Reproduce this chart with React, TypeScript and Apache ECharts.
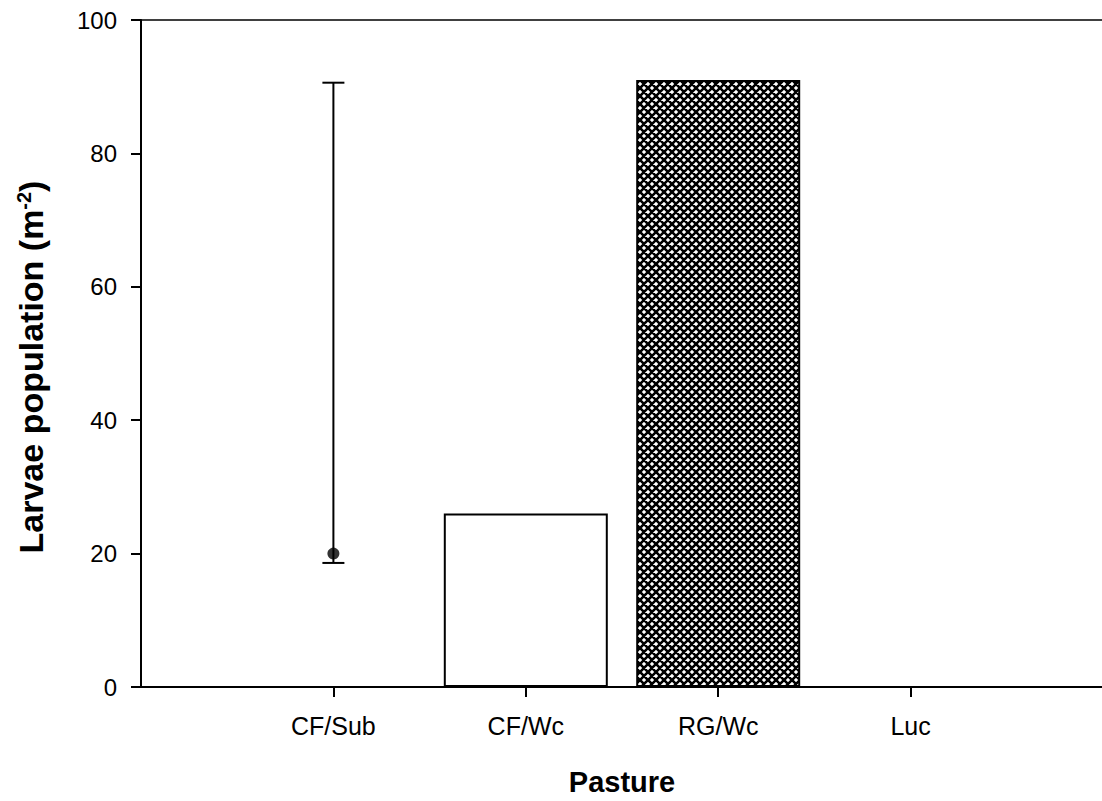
import React, { useEffect, useRef } from "react";
import * as echarts from "echarts";

// Pasture treatments and larvae counts (per m²)
const categories = ["CF/Sub", "CF/Wc", "RG/Wc", "Luc"];
const barValues: (number | null)[] = [null, 26, 91, 0];
const pointValues: (number | null)[] = [20, null, null, null];
const errLow: (number | null)[] = [18.6, null, null, null];
const errHigh: (number | null)[] = [90.6, null, null, null];
const yTicks = [0, 20, 40, 60, 80, 100];

// Axis slots: an empty slot at each end keeps the categories off the frame
const axisSlots = ["", ...categories, ""];

function makeCrossHatch(): HTMLCanvasElement {
  const c = document.createElement("canvas");
  c.width = 8;
  c.height = 8;
  const ctx = c.getContext("2d")!;
  ctx.fillStyle = "#ffffff";
  ctx.fillRect(0, 0, 8, 8);
  ctx.strokeStyle = "#000000";
  ctx.lineWidth = 2.6;
  ctx.beginPath();
  for (let k = -1; k <= 2; k++) {
    const o = k * 8;
    ctx.moveTo(o - 2, -2);
    ctx.lineTo(o + 10, 10);
    ctx.moveTo(o + 2, -2);
    ctx.lineTo(o - 10, 10);
  }
  ctx.stroke();
  return c;
}

export default function App() {
  const ref = useRef<HTMLDivElement>(null);

  useEffect(() => {
    document.body.style.margin = "0";
    document.body.style.overflow = "hidden";
    const chart = echarts.init(ref.current!, null, { renderer: "svg" });
    const hatch = makeCrossHatch();
    const font = "Arial, 'Liberation Sans', sans-serif";

    const barData = axisSlots.map((_, i) => {
      const v = i >= 1 && i <= categories.length ? barValues[i - 1] : null;
      if (v == null) return "-";
      const isHatched = categories[i - 1] === "RG/Wc";
      return {
        value: v,
        itemStyle: {
          color: isHatched
            ? { image: hatch, repeat: "repeat", imageWidth: 8, imageHeight: 8 }
            : "#ffffff",
          borderColor: "#000000",
          borderWidth: 2,
        },
      };
    });

    const pointData = axisSlots.map((_, i) => {
      const v = i >= 1 && i <= categories.length ? pointValues[i - 1] : null;
      return v == null ? "-" : v;
    });

    const errData: number[][] = [];
    categories.forEach((_, k) => {
      if (errLow[k] != null && errHigh[k] != null) {
        errData.push([k + 1, errLow[k] as number, errHigh[k] as number]);
      }
    });

    chart.setOption({
      animation: false,
      backgroundColor: "#ffffff",
      grid: { left: 141, right: 0, top: 20, height: 669, containLabel: false },
      graphic: [
        {
          type: "text",
          x: 31,
          y: 367,
          rotation: Math.PI / 2,
          style: {
            text: "{a|Larvae population (m}{s|-2}{a|)}",
            align: "center",
            verticalAlign: "middle",
            rich: {
              a: { fill: "#000", fontSize: 34, fontWeight: "bold", fontFamily: font },
              s: {
                fill: "#000",
                fontSize: 20,
                fontWeight: "bold",
                fontFamily: font,
                verticalAlign: "top",
                padding: [0, 0, 14, 0],
              },
            },
          },
        },
      ],
      xAxis: [
        {
          type: "category",
          data: axisSlots,
          boundaryGap: false,
          position: "bottom",
          axisLine: { lineStyle: { color: "#000", width: 2 } },
          axisTick: {
            show: true,
            length: 10,
            lineStyle: { color: "#000", width: 2 },
            interval: (idx: number) => idx >= 1 && idx <= categories.length,
          },
          axisLabel: {
            color: "#000",
            fontSize: 25,
            fontFamily: font,
            margin: 26,
            interval: 0,
          },
          splitLine: { show: false },
          name: "Pasture",
          nameLocation: "middle",
          nameGap: 80,
          nameTextStyle: {
            color: "#000",
            fontSize: 29,
            fontWeight: "bold",
            fontFamily: font,
          },
        },
        {
          type: "category",
          data: axisSlots,
          boundaryGap: false,
          position: "top",
          axisLine: { lineStyle: { color: "#000", width: 1.5 } },
          axisTick: { show: false },
          axisLabel: { show: false },
          splitLine: { show: false },
        },
      ],
      yAxis: {
        type: "value",
        min: yTicks[0],
        max: yTicks[yTicks.length - 1],
        interval: 20,
        axisLine: { show: true, lineStyle: { color: "#000", width: 2 } },
        axisTick: { show: true, length: 10, lineStyle: { color: "#000", width: 2 } },
        axisLabel: {
          color: "#000",
          fontSize: 24,
          fontFamily: font,
          margin: 24,
        },
        splitLine: { show: false },
      },
      series: [
        {
          type: "bar",
          xAxisIndex: 0,
          data: barData,
          barWidth: 164,
          silent: true,
        },
        {
          type: "custom",
          xAxisIndex: 0,
          data: errData,
          renderItem: (params: any, api: any) => {
            const x = api.value(0);
            const lo = api.coord([x, api.value(1)]);
            const hi = api.coord([x, api.value(2)]);
            const half = 11;
            const style = { stroke: "#000", lineWidth: 2 };
            return {
              type: "group",
              children: [
                { type: "line", shape: { x1: lo[0], y1: lo[1], x2: hi[0], y2: hi[1] }, style },
                { type: "line", shape: { x1: hi[0] - half, y1: hi[1], x2: hi[0] + half, y2: hi[1] }, style },
                { type: "line", shape: { x1: lo[0] - half, y1: lo[1], x2: lo[0] + half, y2: lo[1] }, style },
              ],
            };
          },
          silent: true,
          z: 3,
        },
        {
          type: "scatter",
          xAxisIndex: 0,
          data: pointData,
          symbol: "circle",
          symbolSize: 12,
          itemStyle: { color: "#000" },
          silent: true,
          z: 4,
        },
      ],
    });

    return () => chart.dispose();
  }, []);

  return (
    <div
      style={{
        position: "absolute",
        left: 0,
        top: 0,
        width: 1102,
        height: 801,
        overflow: "hidden",
      }}
    >
      <div ref={ref} style={{ width: 1106, height: 801 }} />
    </div>
  );
}
